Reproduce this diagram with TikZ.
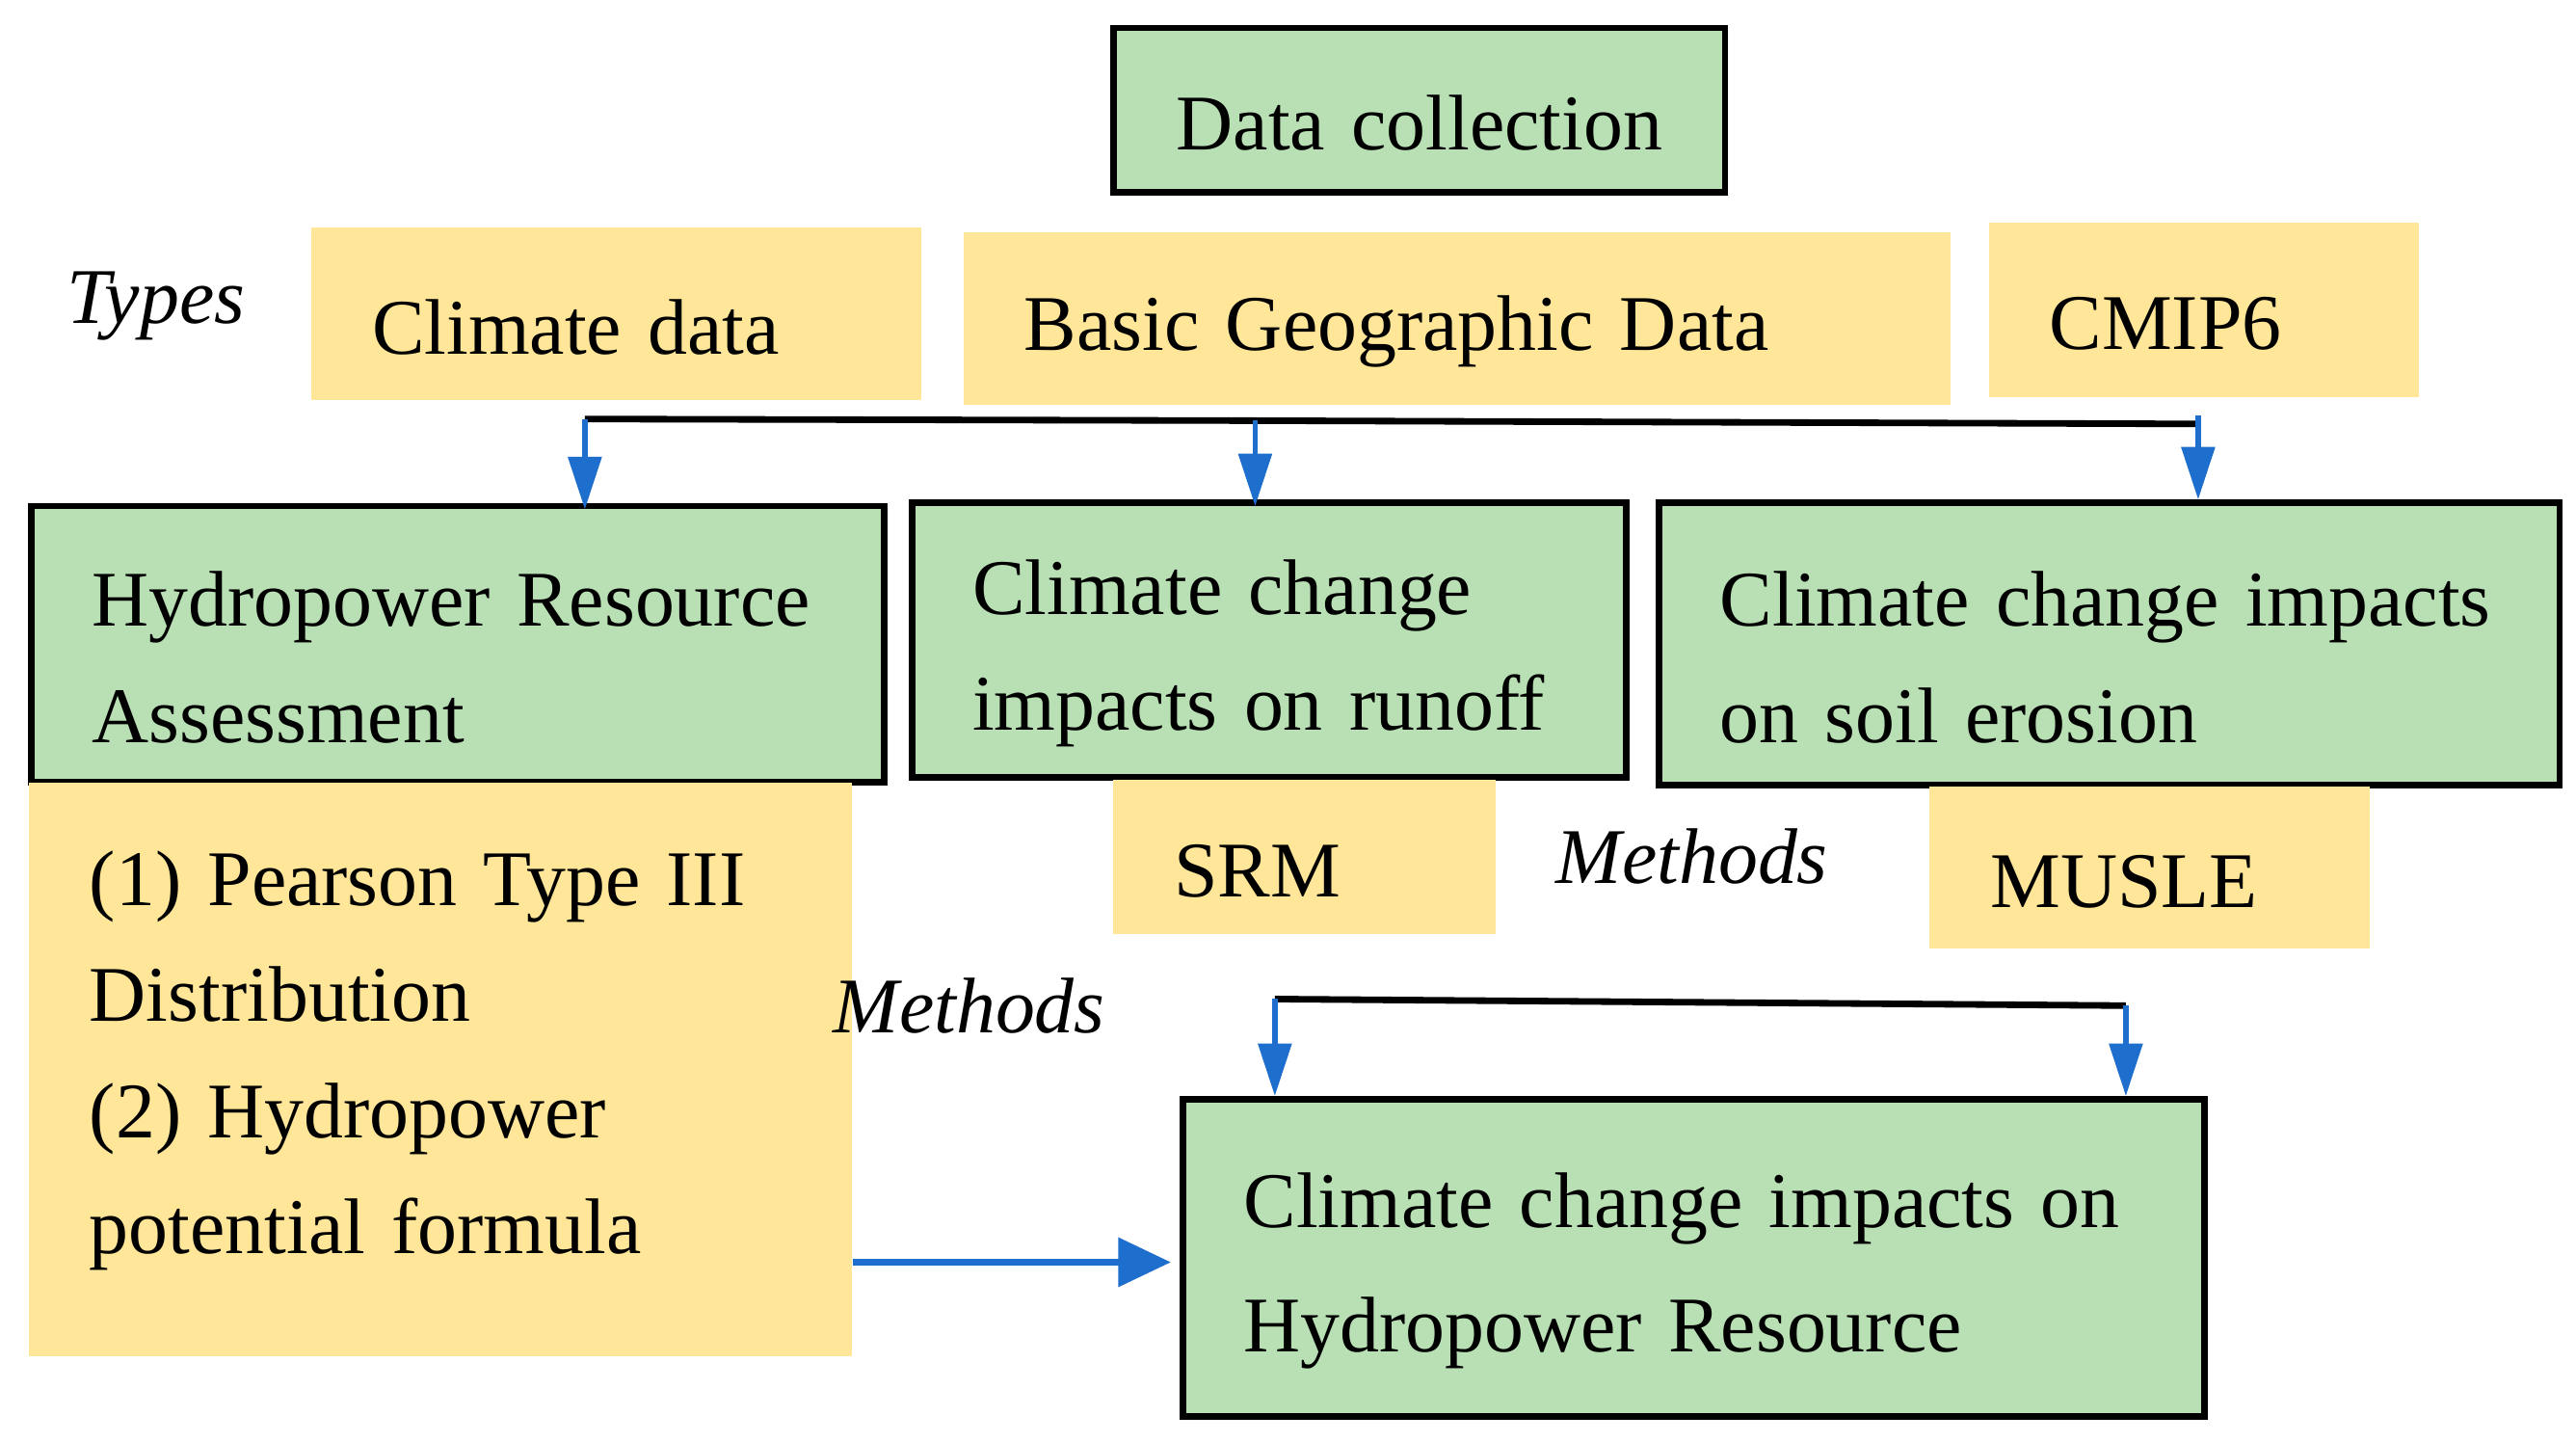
\documentclass[tikz,border=0pt]{standalone}
\usepackage{fontspec}
\setmainfont{Liberation Serif}
\usetikzlibrary{arrows.meta}

\definecolor{boxgreen}{RGB}{185,224,180}
\definecolor{boxyellow}{RGB}{255,230,153}
\definecolor{arrowblue}{RGB}{30,110,205}

\tikzset{every picture/.style={line width=0.75pt}}
\tikzset{
  txt/.style={font=\fontsize{36}{53}\selectfont},
  greenbox/.style={txt, draw=black, line width=3pt, fill=boxgreen, anchor=north west, align=left, inner xsep=27.75pt, inner ysep=0pt, execute at begin node={\rule{0pt}{37pt}}},
  yellowbox/.style={txt, fill=boxyellow, anchor=north west, align=left, inner xsep=27.75pt, inner ysep=0pt, execute at begin node={\rule{0pt}{37pt}}},
  flowarrow/.style={draw=arrowblue, line width=2.4pt, -{Triangle[length=24pt,width=15pt]}},
  joinline/.style={draw=black, line width=3pt}
}

\begin{document}
\begin{tikzpicture}[x=0.75pt,y=0.75pt,yscale=-1,xscale=1]
\useasboundingbox (0,0) rectangle (1568,877);

%Shape: Rectangle [data]
\node [greenbox, align=center, text width=223.5pt, minimum height=75pt] (data) at (676,15) {Data collection};

% Text Node
\node [txt, font=\fontsize{36}{53}\selectfont\itshape] (types) at (95,186) {Types};
%Shape: Rectangle [types]
\node [yellowbox, text width=222.75pt, minimum height=78.75pt] (clim) at (189,138) {Climate data};
\node [yellowbox, text width=395.25pt, minimum height=78.75pt] (geo) at (586,141) {Basic Geographic Data};
\node [yellowbox, text width=141pt, minimum height=79.5pt] (cmip) at (1210,135) {CMIP6};

%Shape: Rectangle [studies]
\node [greenbox, text width=333.75pt, minimum height=126pt] (hra) at (17,306) {Hydropower Resource\\Assessment};
\node [greenbox, text width=270.75pt, minimum height=125.25pt] (runoff) at (553,304) {Climate change\\impacts on runoff};
\node [greenbox, text width=355.5pt, minimum height=129pt] (soil) at (1008,304) {Climate change impacts\\on soil erosion};

%Shape: Rectangle [methods]
\node [yellowbox, text width=320.25pt, minimum height=261.75pt, execute at begin node={}, execute at end node={\rule[-28pt]{0pt}{28pt}}] (meth) at (17,476) {(1) Pearson Type III\\Distribution\\(2) Hydropower\\potential formula};
\node [yellowbox, text width=119.25pt, minimum height=70.5pt] (srm) at (677,474) {SRM};
\node [yellowbox, text width=145.5pt, minimum height=74.25pt] (musle) at (1174,478) {MUSLE};

% Text Node
\node [txt, font=\fontsize{36}{53}\selectfont\itshape] (methA) at (1030,521) {Methods};
\node [txt, font=\fontsize{36}{53}\selectfont\itshape] (methB) at (590,612) {Methods};

%Shape: Rectangle [impact]
\node [greenbox, text width=411pt, minimum height=144.75pt, font=\fontsize{36}{57}\selectfont] (impact) at (718,667) {Climate change impacts on\\Hydropower Resource};

%Straight Lines [upper join]
\coordinate (j1) at (356,255);
\coordinate (j2) at (764,256);
\coordinate (j3) at (1338,258);
\draw [joinline] (j1) -- (j2) -- (j3);
\draw [flowarrow] (j1) -- ([yshift=3pt]j1 |- hra.north);
\draw [flowarrow] (j2) -- ([yshift=3pt]j2 |- runoff.north);
\draw [flowarrow] ([yshift=-4pt]j3) -- (j3 |- soil.north);

%Straight Lines [lower join]
\coordinate (k1) at (776,608);
\coordinate (k2) at (1294,612);
\draw [joinline] (k1) -- (k2);
\draw [flowarrow] (k1) -- (k1 |- impact.north);
\draw [flowarrow] (k2) -- (k2 |- impact.north);

%Straight Lines [to impact]
\draw [flowarrow, line width=3pt, -{Triangle[length=24pt,width=22pt]}] ([yshift=2pt]meth.east |- impact.west) -- ([shift={(-4pt,2pt)}]impact.west);

\end{tikzpicture}
\end{document}
